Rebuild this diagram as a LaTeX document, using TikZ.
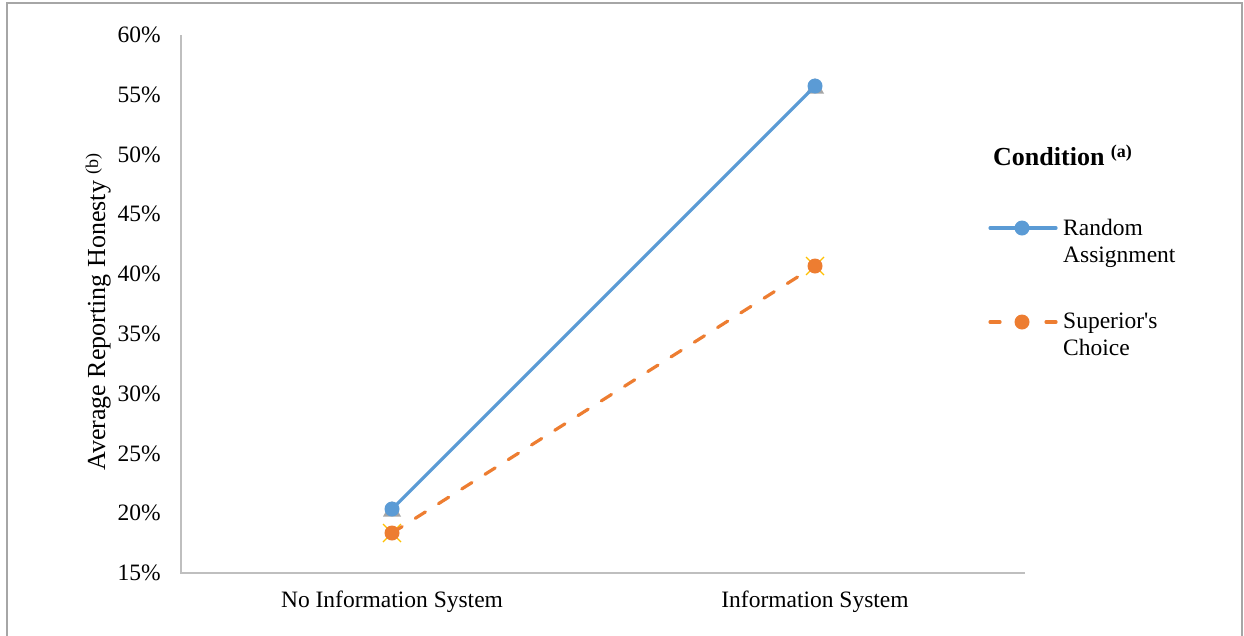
\documentclass[tikz,border=0pt]{standalone}
\usepackage{fontspec}
\setmainfont{Liberation Serif}[Ligatures=TeXOff]
\definecolor{sblue}{HTML}{5B9BD5}
\definecolor{sorange}{HTML}{ED7D31}
\definecolor{sgray}{HTML}{A5A5A5}
\definecolor{syellow}{HTML}{FFC000}
\definecolor{axisgray}{HTML}{BFBFBF}
\definecolor{framegray}{HTML}{A6A6A6}
\begin{document}
\begin{tikzpicture}[x=1pt,y=-1pt,
  lbl/.style={font=\fontsize{23.5}{27}\selectfont, inner sep=0pt},
  ticklbl/.style={lbl, anchor=east},
  dot/.style={circle, inner sep=0pt, minimum size=15pt},
  bluedot/.style={dot, fill=sblue},
  orangedot/.style={dot, fill=sorange},
  bluel/.style={sblue, line width=3.2pt, line cap=round},
  orangel/.style={sorange, line width=3.2pt, line cap=round, dash pattern=on 12pt off 15.5pt},
  hidtri/.style={fill=sgray},
  hidx/.style={syellow, line width=1.2pt},
  axisl/.style={axisgray, line width=1.6pt},
  framel/.style={framegray, line width=2pt}]
\useasboundingbox (0,0) rectangle (1244,635);
% outer frame
\coordinate (fbl) at (7,636);
\coordinate (ftl) at (7,3);
\coordinate (ftr) at (1242,3);
\coordinate (fbr) at (1242,636);
\draw[framel] (fbl) -- (ftl) -- (ftr) -- (fbr);
% axes
\coordinate (ytop) at (181,35);
\coordinate (org) at (181,573);
\coordinate (xend) at (1025,573);
\draw[axisl] (ytop) -- (org) -- (xend);
% tick labels
\foreach \v in {15,20,...,60}{
  \node[ticklbl] (t\v) at (161,{573-(\v-15)*11.9556}) {\v\%};
}
% category labels
\node[lbl] (c1) at (392,602) {No Information System};
\node[lbl] (c2) at (815,602) {Information System};
% axis title
\node[font=\fontsize{26}{30}\selectfont, inner sep=0pt, rotate=90, anchor=base] (ytitle) at (105,312)
  {Average Reporting Honesty \raisebox{7pt}{\fontsize{18}{20}\selectfont (b)}};
% data coordinates
\coordinate (r1) at (392,509);
\coordinate (r2) at (815,86);
\coordinate (s1) at (392,533);
\coordinate (s2) at (815,266);
% hidden series markers
\foreach \p in {r1,r2}{
  \fill[hidtri] ([xshift=-9pt,yshift=-7.5pt]\p) -- ([xshift=9pt,yshift=-7.5pt]\p) -- ([yshift=8pt]\p) -- cycle;
}
\foreach \p in {s1,s2}{
  \draw[hidx] ([xshift=-9pt,yshift=-9pt]\p) -- ([xshift=9pt,yshift=9pt]\p);
  \draw[hidx] ([xshift=-9pt,yshift=9pt]\p) -- ([xshift=9pt,yshift=-9pt]\p);
}
% series lines
\draw[bluel] (r1) -- (r2);
\draw[orangel] (s1) -- (s2);
\node[bluedot] (nr1) at (r1) {};
\node[bluedot] (nr2) at (r2) {};
\node[orangedot] (ns1) at (s1) {};
\node[orangedot] (ns2) at (s2) {};
% legend
\node[font=\fontsize{26}{30}\selectfont\bfseries, inner sep=0pt, anchor=base west] (ltitle) at (993,165)
  {Condition \raisebox{8pt}{\fontsize{18}{20}\selectfont (a)}};
\coordinate (la1) at (990,228);
\coordinate (la2) at (1056,228);
\draw[bluel] (la1) -- (la2);
\node[bluedot] (lad) at (1022,228) {};
\node[lbl, anchor=base west] (lat1) at (1063,235) {Random};
\node[lbl, anchor=base west] (lat2) at (1063,262) {Assignment};
\coordinate (lb1) at (990,322);
\coordinate (lb2) at (1056,322);
\draw[orangel, dash pattern=on 10pt off 46pt] (lb1) -- (lb2);
\node[orangedot] (lbd) at (1022,322) {};
\node[lbl, anchor=base west] (lbt1) at (1063,328) {Superior's};
\node[lbl, anchor=base west] (lbt2) at (1063,355) {Choice};
\end{tikzpicture}
\end{document}
